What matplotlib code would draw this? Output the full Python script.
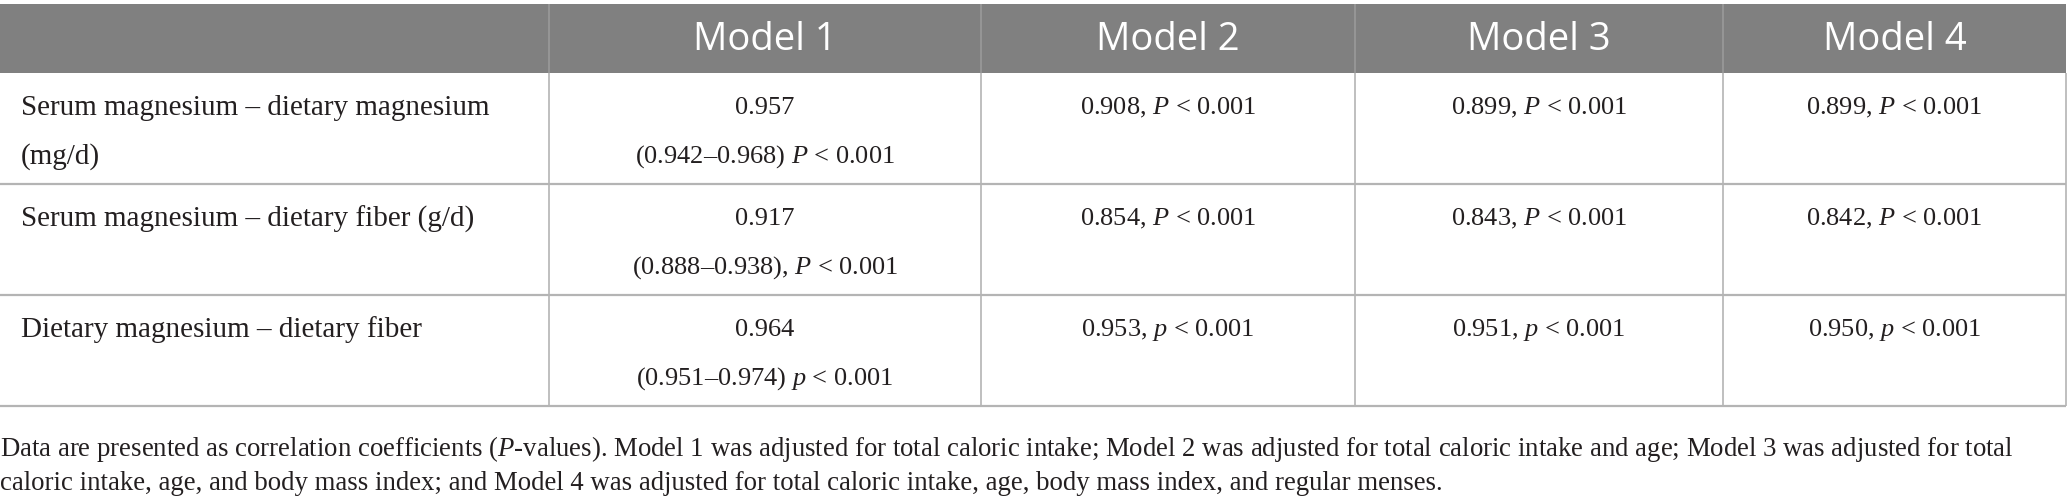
import matplotlib
matplotlib.use("Agg")
import matplotlib.pyplot as plt
from matplotlib.patches import Rectangle

plt.rcParams['font.family'] = ['Liberation Serif', 'DejaVu Serif']
plt.rcParams['mathtext.fontset'] = 'custom'
plt.rcParams['mathtext.rm'] = 'Liberation Serif'
plt.rcParams['mathtext.it'] = 'Liberation Serif:italic'

# table content
models = ["Model 1", "Model 2", "Model 3", "Model 4"]
pair_lines = [["Serum magnesium \u2013 dietary magnesium", "(mg/d)"],
              ["Serum magnesium \u2013 dietary fiber (g/d)"],
              ["Dietary magnesium \u2013 dietary fiber"]]
coef = [["0.957", "0.908", "0.899", "0.899"],
        ["0.917", "0.854", "0.843", "0.842"],
        ["0.964", "0.953", "0.951", "0.950"]]
ci_model1 = ["(0.942\u20130.968)", "(0.888\u20130.938),", "(0.951\u20130.974)"]
p_letter = ["P", "P", "p"]
p_value = "0.001"
footnote = ["Data are presented as correlation coefficients ($P$-values). Model 1 was adjusted for total caloric intake; "
            "Model 2 was adjusted for total caloric intake and age; Model 3 was adjusted for total",
            "caloric intake, age, and body mass index; and Model 4 was adjusted for total caloric intake, age, "
            "body mass index, and regular menses."]

W, H = 2067, 497
fig = plt.figure(figsize=(W / 100, H / 100), dpi=100)
ax = fig.add_axes([0, 0, 1, 1])
ax.set_xlim(0, W)
ax.set_ylim(H, 0)
ax.axis('off')

col_x = [0, 549, 981, 1355, 1723, 2066]
head_top, head_bot = 4, 73
row_h = 111
grid_c = '#b4b4b4'
label_fs = 21
cell_fs = 19
text_c = '#231f20'

# header band
ax.add_patch(Rectangle((0, head_top), col_x[-1], head_bot - head_top,
                       facecolor='#808080', edgecolor='none', zorder=1))
ax.vlines(col_x[1:-1], head_top, head_bot, colors='#9a9a9a', lw=1.2, zorder=2)
for j, m in enumerate(models):
    xc = (col_x[j + 1] + col_x[j + 2]) / 2
    ax.text(xc, (head_top + head_bot) / 2 + 1, m, ha='center', va='center',
            color='white', fontsize=27.5, family=['Open Sans', 'DejaVu Sans'], zorder=3)

# body grid
n_rows = len(pair_lines)
bottom = head_bot + n_rows * row_h
for i in range(n_rows):
    ax.hlines(head_bot + (i + 1) * row_h, 0, col_x[-1], colors=grid_c, lw=1.6, zorder=2)
ax.vlines(col_x[1:], head_bot, bottom, colors=grid_c, lw=1.2, zorder=2)

for i in range(n_rows):
    y0 = head_bot + i * row_h
    y1, y2 = y0 + 35, y0 + 84
    for k, line in enumerate(pair_lines[i]):
        ax.text(21, [y1, y2][k], line, ha='left', va='center', fontsize=label_fs, color=text_c)
    pstr = "$%s$ < %s" % (p_letter[i], p_value)
    # model 1: coefficient with confidence interval on second line
    xc = (col_x[1] + col_x[2]) / 2
    ax.text(xc, y1, coef[i][0], ha='center', va='center', fontsize=cell_fs, color=text_c)
    ax.text(xc, y2, ci_model1[i] + " " + pstr, ha='center', va='center',
            fontsize=cell_fs, color=text_c)
    for j in range(1, len(models)):
        xc = (col_x[j + 1] + col_x[j + 2]) / 2
        ax.text(xc, y1, coef[i][j] + ", " + pstr, ha='center', va='center',
                fontsize=cell_fs, color=text_c)

# footnote
for k, line in enumerate(footnote):
    ax.text(0, 449 + k * 34, line, ha='left', va='center', fontsize=19.3, color=text_c)

fig.savefig("out.png", dpi=100)
